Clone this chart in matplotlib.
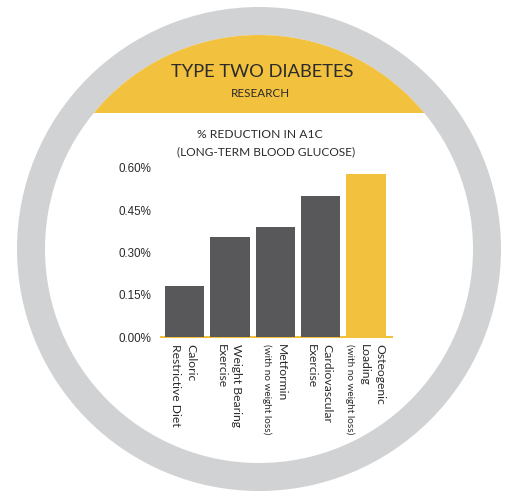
import matplotlib
matplotlib.use("Agg")
import matplotlib.pyplot as plt
import matplotlib.patches as mpatches
import matplotlib.transforms as mtransforms
import numpy as np

# ── Data ──────────────────────────────────────────────────────────────────────
categories = [
    ["Caloric", "Restrictive Diet"],
    ["Weight Bearing", "Exercise"],
    ["Metformin", "(with no weight loss)"],
    ["Cardiovascular", "Exercise"],
    ["Osteogenic", "Loading", "(with no weight loss)"],
]
values = [0.18, 0.355, 0.39, 0.50, 0.58]
highlight = [False, False, False, False, True]
yticks = [0.0, 0.15, 0.30, 0.45, 0.60]

GRAY_RING = "#D1D2D4"
YELLOW = "#F2C13D"
BAR_GRAY = "#58585A"
TEXT = "#2B2B2B"
FONT = "Lato"

W, H = 512, 491
fig = plt.figure(figsize=(W / 100, H / 100), dpi=100)

# ── Background badge (pixel coordinates) ──────────────────────────────────────
bg = fig.add_axes([0, 0, 1, 1])
bg.set_xlim(0, W)
bg.set_ylim(H, 0)
bg.axis("off")

cx, cy = 259, 249
bg.add_patch(mpatches.Circle((cx, cy), 242, color=GRAY_RING, lw=0))
bg.add_patch(mpatches.Circle((cx, cy), 214, color="white", lw=0))
band = mpatches.Circle((cx, cy), 214, color=YELLOW, lw=0)
bg.add_patch(band)
band.set_clip_path(mpatches.Rectangle((0, 0), W, 113, transform=bg.transData))

bg.text(262, 72, "TYPE TWO DIABETES", ha="center", va="center",
        fontsize=13.2, family=FONT, color=TEXT)
bg.text(260, 93, "RESEARCH", ha="center", va="center",
        fontsize=8.4, family=FONT, color=TEXT)
bg.text(260, 135, "% REDUCTION IN A1C", ha="center", va="center",
        fontsize=8.7, family=FONT, color=TEXT)
bg.text(266, 152, "(LONG-TERM BLOOD GLUCOSE)", ha="center", va="center",
        fontsize=8.6, family=FONT, color=TEXT)

# ── Bar chart ─────────────────────────────────────────────────────────────────
ax = fig.add_axes([161 / W, (H - 337) / H, (392 - 161) / W, (337 - 168) / H])
ax.patch.set_alpha(0)
x = np.arange(len(values))
colors = [YELLOW if h else BAR_GRAY for h in highlight]
ax.bar(x, values, width=0.87, color=colors, zorder=3)

ax.set_xlim(-0.52, len(values) - 1 + 0.57)
ax.set_ylim(0, 0.6)
ax.set_yticks(yticks)
ax.set_yticklabels([f"{v:.2f}%" for v in yticks], family="Liberation Sans",
                   fontsize=8.4, color=TEXT)
ax.tick_params(axis="y", length=0, pad=7)
ax.set_xticks([])
for side in ["top", "right", "left"]:
    ax.spines[side].set_visible(False)
ax.spines["bottom"].set_color(YELLOW)
ax.spines["bottom"].set_linewidth(1.5)

# rotated category labels, one text per line
trans = mtransforms.blended_transform_factory(ax.transData, ax.transAxes)
line_step = 15 * 0.72  # px -> pt
for xi, lines in zip(x, categories):
    n = len(lines)
    for j, line in enumerate(lines):
        off = ((n - 1) / 2 - j) * line_step - 1
        small = line.startswith("(")
        ax.annotate(line, xy=(xi, 0), xycoords=trans,
                    xytext=(off, -5), textcoords="offset points",
                    rotation=270, ha="center", va="top",
                    fontsize=7.2 if small else 8.7, family=FONT, color=TEXT)

fig.savefig("out.png", dpi=100)
